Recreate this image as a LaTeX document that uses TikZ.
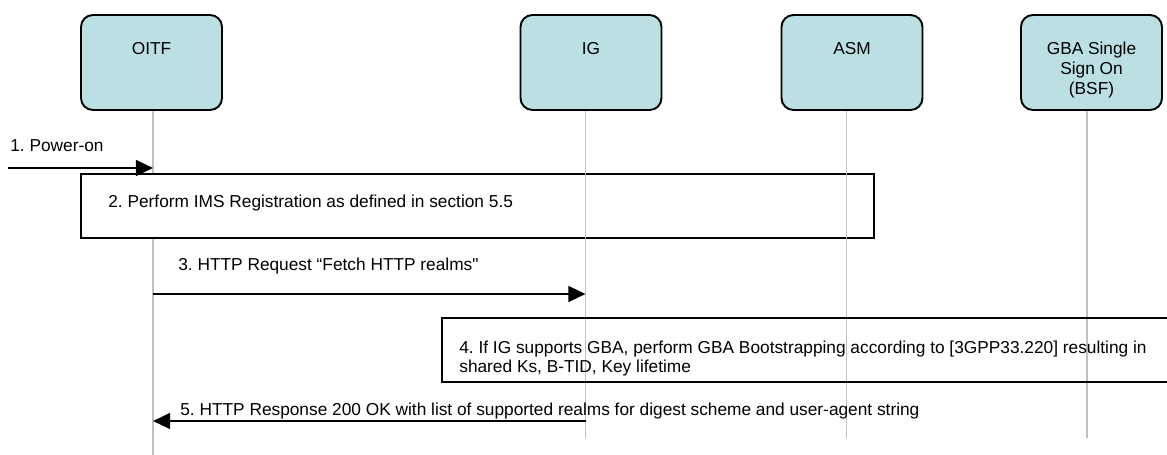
\documentclass[tikz,border=0pt]{standalone}
\usepackage{fontspec}
\setmainfont{Liberation Sans}[Ligatures=TeXOff]
\usetikzlibrary{arrows.meta}
\definecolor{actorfill}{RGB}{187,224,227}
\definecolor{lifegray}{RGB}{192,192,192}
\frenchspacing
\begin{document}
\begin{tikzpicture}[x=0.2mm, y=0.2mm]
\tikzstyle{every node}+=[inner sep=0pt, font=\fontsize{9.84pt}{11.4pt}\selectfont]
\tikzstyle{actor}=[draw=black, line width=1.1pt, fill=actorfill, rounded corners=6.8pt, minimum width=2.82cm, minimum height=1.9cm]
\tikzstyle{life}=[draw=lifegray, line width=1.1pt]
\tikzstyle{msg}=[draw=black, line width=1pt, -{Triangle[length=9.7pt,width=9pt]}]
\tikzstyle{stepbox}=[draw=black, line width=0.95pt]
\clip (0,0) rectangle (1167,-455);
\node [actor] (oitf) at (151.5,-62.5) {};
\node [anchor=north] (oitf name) at (151.5,-42) {OITF};
\node [actor] (ig) at (591,-62.5) {};
\node [anchor=north] (ig name) at (591,-42) {IG};
\node [actor] (asm) at (852,-62.5) {};
\node [anchor=north] (asm name) at (852,-42) {ASM};
\node [actor] (bsf) at (1091.5,-62.5) {};
\node [anchor=north, align=center] (bsf name) at (1091.5,-42) {GBA Single\\Sign On\\(BSF)};
\coordinate (oitf end) at (153,-455);
\coordinate (ig end) at (585.5,-438);
\coordinate (asm end) at (846.5,-438);
\coordinate (bsf end) at (1087,-438);
\draw [life] (oitf end |- oitf.south) -- (oitf end);
\node [stepbox, fill=white, minimum width=15.86cm, minimum height=1.28cm] (reg) at (477.5,-206) {};
\node [anchor=base west] (reg text) at (108,-207) {2. Perform IMS Registration as defined in section 5.5};
\draw [life] (ig end |- ig.south) -- (ig end);
\draw [life] (asm end |- asm.south) -- (asm end);
\draw [life] (bsf end |- bsf.south) -- (bsf end);
\node [stepbox, minimum width=14.76cm, minimum height=1.28cm] (boot) at (811,-350) {};
\node [anchor=north west, align=left, font=\fontsize{9.84pt}{10.4pt}\selectfont] (boot text) at (459,-341) {4. If IG supports GBA, perform GBA Bootstrapping according to [3GPP33.220] resulting in\\shared Ks, B-TID, Key lifetime};
\coordinate (power) at (8,-168);
\coordinate (m3) at (0,-294);
\coordinate (m5) at (0,-421);
\draw [msg] (power) -- (power -| oitf end);
\node [anchor=base west] (power text) at (10,-151) {1. Power-on};
\draw [msg] (oitf end |- m3) -- (ig end |- m3);
\node [anchor=base west] (req text) at (178,-270) {3. HTTP Request “Fetch HTTP realms"};
\draw [msg] (ig end |- m5) -- (oitf end |- m5);
\node [anchor=base west] (resp text) at (180,-415) {5. HTTP Response 200 OK with list of supported realms for digest scheme and user-agent string};
\end{tikzpicture}
\end{document}
